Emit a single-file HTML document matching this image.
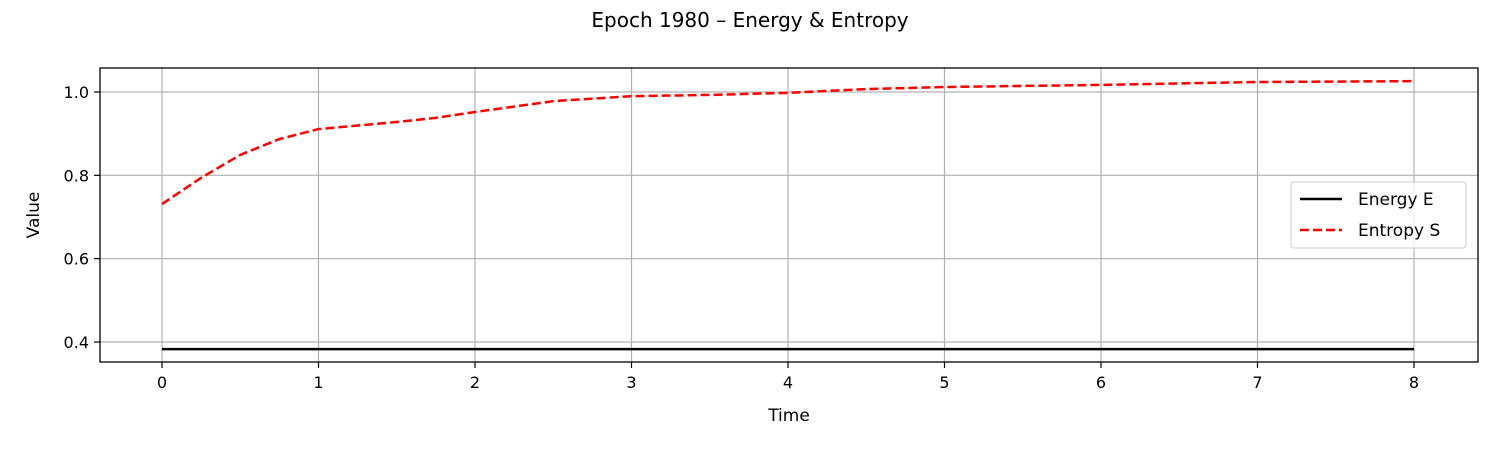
<!DOCTYPE html>
<html><head><meta charset="utf-8"><style>
body{margin:0;background:#fff;font-family:"Liberation Sans","DejaVu Sans",sans-serif;}
svg text{font-family:"DejaVu Sans","Liberation Sans",sans-serif;}
</style></head><body>
<svg id="chart" width="1500" height="450" xmlns="http://www.w3.org/2000/svg">
<text x="750" y="27" text-anchor="middle" font-size="20">Epoch 1980 – Energy &amp; Entropy</text>
<g id="grid"></g>
<g id="series"></g>
<rect x="100" y="68" width="1378" height="294" fill="none" stroke="#000" stroke-width="1.3"/>
<g id="ticks"></g>
<text x="789" y="421" text-anchor="middle" font-size="17">Time</text>
<text transform="translate(39,215) rotate(-90)" text-anchor="middle" font-size="17">Value</text>
<g>
<rect x="1291" y="182" width="175" height="66" rx="3" fill="#fff" fill-opacity="0.8" stroke="#ccc"/>
<g><line x1="1300" y1="199" x2="1342" y2="199" stroke="#000" stroke-width="2.5"/><text x="1358" y="205" font-size="17">Energy E</text></g>
<g><line x1="1300" y1="230" x2="1342" y2="230" stroke="red" stroke-width="2.5" stroke-dasharray="9,4"/><text x="1358" y="236" font-size="17">Entropy S</text></g>
</g>
</svg>
<script>
const times=[0,0.25,0.5,0.75,1,1.5,1.75,2,2.5,3,3.5,4,4.5,5,6,7,8];
const entropy=[0.731,0.794,0.849,0.887,0.911,0.928,0.938,0.952,0.978,0.990,0.993,0.998,1.007,1.012,1.017,1.024,1.026];
const energy=[0.383,0.383,0.383,0.383,0.383,0.383,0.383,0.383,0.383,0.383,0.383,0.383,0.383,0.383,0.383,0.383,0.383];
const xTicks=[0,1,2,3,4,5,6,7,8];
const yTicks=[0.4,0.6,0.8,1.0];
const X=t=>162+t*156.5;
const Y=v=>342-(v-0.4)*416.67;
const NS="http://www.w3.org/2000/svg";
const mk=(p,tag,a)=>{const e=document.createElementNS(NS,tag);for(const k in a)e.setAttribute(k,a[k]);document.getElementById(p).appendChild(e);return e;};
xTicks.forEach(t=>{
 const g=mk('grid','line',{x1:X(t),x2:X(t),y1:68,y2:362,stroke:'#b0b0b0','stroke-width':1.2});
 
 
 const k=mk('ticks','line',{x1:X(t),x2:X(t),y1:362,y2:368,stroke:'#000','stroke-width':1.2});
 
 
 const l=mk('ticks','text',{x:X(t),y:388,'text-anchor':'middle','font-size':16});
 l.textContent=t;
 
 
});
yTicks.forEach(v=>{
 const g=mk('grid','line',{x1:100,x2:1478,y1:Y(v),y2:Y(v),stroke:'#b0b0b0','stroke-width':1.2});
 
 
 const k=mk('ticks','line',{x1:94,x2:100,y1:Y(v),y2:Y(v),stroke:'#000','stroke-width':1.2});
 
 
 const l=mk('ticks','text',{x:89,y:Y(v)+6,'text-anchor':'end','font-size':16});
 l.textContent=v.toFixed(1);
 
 
});
const pts=a=>a.map((v,i)=>X(times[i])+','+Y(v)).join(' ');
const e=mk('series','polyline',{points:pts(energy),fill:'none',stroke:'#000','stroke-width':2.5});


const s=mk('series','polyline',{points:pts(entropy),fill:'none',stroke:'red','stroke-width':2.5,'stroke-dasharray':'9,4','stroke-linejoin':'round'});


</script>
</body></html>
